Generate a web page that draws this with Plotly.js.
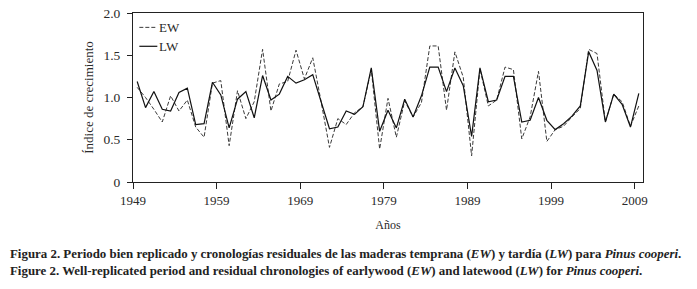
<!DOCTYPE html>
<html>
<head>
<meta charset="utf-8">
<script src="https://cdn.plot.ly/plotly-3.0.1.min.js"></script>
<style>html,body{margin:0;padding:0;background:#fff;}#chart{width:697px;height:289px;}</style>
</head>
<body>
<div id="chart"></div>
<script>
const years = [];
for (let y = 1949; y <= 2009; y++) years.push(y);

const ewValues = [
  1.12, 1.00, 0.86, 0.71, 1.02, 0.84, 0.97, 0.65, 0.53, 1.17,
  1.20, 0.43, 1.08, 0.75, 0.95, 1.57, 0.84, 1.16, 1.19, 1.56,
  1.22, 1.47, 0.95, 0.41, 0.75, 0.68, 0.82, 0.89, 1.33, 0.39,
  0.99, 0.53, 0.96, 0.77, 0.94, 1.61, 1.61, 0.85, 1.54, 1.24,
  0.31, 1.34, 0.90, 0.97, 1.36, 1.33, 0.51, 0.77, 1.31, 0.48,
  0.62, 0.66, 0.77, 0.87, 1.57, 1.52, 0.71, 1.04, 0.95, 0.66,
  0.90
];

const lwValues = [
  1.19, 0.88, 1.07, 0.86, 0.84, 1.06, 1.11, 0.68, 0.69, 1.18,
  1.03, 0.64, 0.98, 1.07, 0.76, 1.26, 0.97, 1.04, 1.25, 1.17,
  1.21, 1.27, 0.95, 0.63, 0.65, 0.84, 0.80, 0.89, 1.35, 0.60,
  0.85, 0.64, 0.98, 0.77, 1.02, 1.36, 1.36, 1.07, 1.35, 1.14,
  0.54, 1.35, 0.95, 0.97, 1.25, 1.25, 0.71, 0.73, 1.00, 0.73,
  0.62, 0.69, 0.78, 0.90, 1.54, 1.32, 0.71, 1.04, 0.92, 0.65,
  1.05
];

const xTickLabels = ["1949", "1959", "1969", "1979", "1989", "1999", "2009"];
const yTickValues = [0, 0.5, 1.0, 1.5, 2.0];
const yTickLabels = ["0", "0.5", "1.0", "1.5", "2.0"];
const seriesNames = ["EW", "LW"];

const FONT = "Liberation Serif, Times New Roman, serif";
const TXT = "#2a2a2a";

const traces = [
  {
    x: years, y: ewValues, type: "scatter", mode: "lines", name: seriesNames[0],
    line: { color: "#3a3a3a", width: 1, dash: "4px,2px" }, showlegend: false
  },
  {
    x: years, y: lwValues, type: "scatter", mode: "lines", name: seriesNames[1],
    line: { color: "#111111", width: 1.2 }, showlegend: false
  }
];

const layout = {
  width: 697, height: 289,
  margin: { l: 133, r: 54, t: 13, b: 107, pad: 0 },
  paper_bgcolor: "#ffffff", plot_bgcolor: "#ffffff",
  font: { family: FONT, size: 13, color: TXT },
  xaxis: {
    range: [1948.5, 2009.5],
    tickvals: xTickLabels.map(s => Number(s) - 0.5),
    ticktext: xTickLabels,
    ticks: "outside", ticklen: 6, tickcolor: "#222", tickwidth: 1,
    showline: true, linecolor: "#222", linewidth: 1, mirror: true,
    showgrid: false, zeroline: false,
    tickfont: { family: FONT, size: 13, color: TXT },
    title: { text: "Años", font: { family: FONT, size: 12, color: TXT }, standoff: 14 }
  },
  yaxis: {
    range: [0, 2],
    tickvals: yTickValues, ticktext: yTickLabels,
    ticks: "outside", ticklen: 5, tickcolor: "#222", tickwidth: 1,
    ticklabelstandoff: 4,
    showline: true, linecolor: "#222", linewidth: 1, mirror: true,
    showgrid: false, zeroline: false,
    tickfont: { family: FONT, size: 13.5, color: TXT },
    title: { text: "Índice de crecimiento", font: { family: FONT, size: 13, color: TXT }, standoff: 6 }
  },
  shapes: [
    { type: "line", xref: "paper", yref: "paper", x0: 0.0124, x1: 0.0477, y0: 0.915, y1: 0.915,
      line: { color: "#3a3a3a", width: 1, dash: "4px,2px" } },
    { type: "line", xref: "paper", yref: "paper", x0: 0.0124, x1: 0.0477, y0: 0.803, y1: 0.803,
      line: { color: "#111111", width: 1.2 } }
  ],
  annotations: [
    { xref: "paper", yref: "paper", x: 0.0477, y: 0.915, xanchor: "left", yanchor: "middle",
      text: seriesNames[0], showarrow: false, font: { family: FONT, size: 13, color: TXT } },
    { xref: "paper", yref: "paper", x: 0.0477, y: 0.803, xanchor: "left", yanchor: "middle",
      text: seriesNames[1], showarrow: false, font: { family: FONT, size: 13, color: TXT } },
    { xref: "paper", yref: "paper", x: -0.2446, y: -0.428, xanchor: "left", yanchor: "middle", align: "left",
      text: "<b>Figura 2. Periodo bien replicado y cronologías residuales de las maderas temprana (<i>EW</i>) y tardía (<i>LW</i>) para <i>Pinus cooperi</i>.</b>",
      showarrow: false, font: { family: FONT, size: 12.9, color: "#222" } },
    { xref: "paper", yref: "paper", x: -0.2446, y: -0.528, xanchor: "left", yanchor: "middle", align: "left",
      text: "<b>Figure 2. Well-replicated period and residual chronologies of earlywood (<i>EW</i>) and latewood (<i>LW</i>) for <i>Pinus cooperi</i>.</b>",
      showarrow: false, font: { family: FONT, size: 12.9, color: "#222" } }
  ]
};

Plotly.newPlot("chart", traces, layout, { displayModeBar: false, staticPlot: true });
</script>
</body>
</html>
